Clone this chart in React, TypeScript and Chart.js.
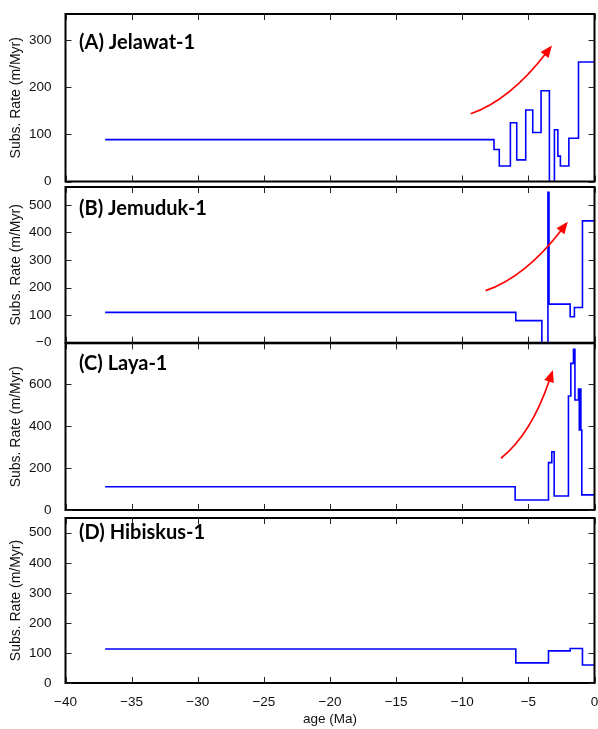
import React, { useEffect, useRef } from 'react';
import { Chart, registerables } from 'chart.js';

Chart.register(...registerables);

// ---------- data ----------
const X_TICKS = [-40, -35, -30, -25, -20, -15, -10, -5, 0];

const A_TITLE = '(A) Jelawat-1';
const A_AGE = [-37, -7.6, -7.2, -6.36, -5.88, -5.2, -4.67, -4.04, -3.41, -3.03, -2.77, -2.58, -1.94, -1.21, 0];
const A_RATE = [89, 68, 33, 125, 46, 152, 104, 193, -200, 110, 54, 33, 92, 254, 254];
const A_Y_TICKS = [0, 100, 200, 300];
const A_Y_MAX = 356;
const A_ARROW = [[-9.36, 144], [-6.41, 173], [-3.22, 289]];

const B_TITLE = '(B) Jemuduk-1';
const B_AGE = [-37, -5.95, -3.98, -3.52, -3.49, -3.47, -3.44, -1.84, -1.52, -0.91, 0];
const B_RATE = [110, 80, -100, 546, 140, 546, 140, 94, 128, 442, 442];
const B_Y_TICKS = [0, 100, 200, 300, 400, 500];
const B_Y_MAX = 565;
const B_ARROW = [[-8.23, 189], [-5.23, 239], [-2.02, 439]];

const C_TITLE = '(C) Laya-1';
const C_AGE = [-37, -6.0, -3.48, -3.23, -3.05, -1.97, -1.79, -1.59, -1.48, -1.21, -1.15, -1.09, -1.03, -0.96, 0];
const C_RATE = [111, 48, 226, 278, 67, 544, 700, 767, 525, 578, 382, 578, 382, 72, 72];
const C_Y_TICKS = [0, 200, 400, 600];
const C_Y_MAX = 796;
const C_ARROW = [[-7.07, 247], [-4.77, 363], [-3.15, 668]];

const D_TITLE = '(D) Hibiskus-1';
const D_AGE = [-37, -5.95, -3.48, -1.84, -0.91, 0];
const D_RATE = [113, 67, 107, 115, 60, 60];
const D_Y_TICKS = [0, 100, 200, 300, 400, 500];
const D_Y_MAX = 549;

const Y_TITLE = 'Subs. Rate (m/Myr)';
const X_TITLE = 'age (Ma)';

// ---------- layout / style ----------
const W = 598;
const H = 729;
const AXIS_FONT = { family: "'Liberation Sans', Arial, sans-serif", size: 13.5 };
const TEXT_COLOR = '#111';
const LINE_COLOR = '#0000ff';
const ARROW_COLOR = '#ff0000';

type PanelDef = {
  title: string;
  ages: number[];
  rates: number[];
  yTicks: number[];
  yMax: number;
  arrow: number[][] | null;
  zeroLabel: string;
  top: number;
  bottom: number;
  titleDy: number;
  showX: boolean;
};

const PANELS: PanelDef[] = [
  { title: A_TITLE, ages: A_AGE, rates: A_RATE, yTicks: A_Y_TICKS, yMax: A_Y_MAX, arrow: A_ARROW, zeroLabel: '0', top: 14, bottom: 181.5, titleDy: 29, showX: false },
  { title: B_TITLE, ages: B_AGE, rates: B_RATE, yTicks: B_Y_TICKS, yMax: B_Y_MAX, arrow: B_ARROW, zeroLabel: '\u22120', top: 187, bottom: 342.7, titleDy: 22, showX: false },
  { title: C_TITLE, ages: C_AGE, rates: C_RATE, yTicks: C_Y_TICKS, yMax: C_Y_MAX, arrow: C_ARROW, zeroLabel: '0', top: 343.3, bottom: 510, titleDy: 20, showX: false },
  { title: D_TITLE, ages: D_AGE, rates: D_RATE, yTicks: D_Y_TICKS, yMax: D_Y_MAX, arrow: null, zeroLabel: '0', top: 518, bottom: 683, titleDy: 15, showX: true },
];

const fmt = (v: number) => String(v).replace('-', '\u2212');

function makePlugin(p: PanelDef) {
  return {
    id: 'frame',
    afterDatasetsDraw(chart: any) {
      const { ctx, chartArea: ca, scales } = chart;
      const xs = scales.x;
      const ys = scales.y;
      ctx.save();
      // red arrow
      if (p.arrow) {
        const pts = p.arrow.map(([a, r]) => [xs.getPixelForValue(a), ys.getPixelForValue(r)]);
        const [s, c, t] = pts;
        const dx = t[0] - c[0];
        const dy = t[1] - c[1];
        const len = Math.hypot(dx, dy);
        const ux = dx / len;
        const uy = dy / len;
        const headL = 12;
        const headW = 5;
        const bx = t[0] - ux * headL;
        const by = t[1] - uy * headL;
        ctx.strokeStyle = ARROW_COLOR;
        ctx.fillStyle = ARROW_COLOR;
        ctx.lineWidth = 1.7;
        ctx.beginPath();
        ctx.moveTo(s[0], s[1]);
        ctx.quadraticCurveTo(c[0], c[1], bx + ux * 2, by + uy * 2);
        ctx.stroke();
        ctx.beginPath();
        ctx.moveTo(t[0], t[1]);
        ctx.lineTo(bx - uy * headW, by + ux * headW);
        ctx.lineTo(bx + uy * headW, by - ux * headW);
        ctx.closePath();
        ctx.fill();
      }
      // frame
      ctx.strokeStyle = '#000';
      ctx.lineWidth = 2;
      ctx.strokeRect(ca.left, ca.top, ca.right - ca.left, ca.bottom - ca.top);
      // inward ticks
      ctx.lineWidth = 1;
      ctx.strokeStyle = '#222';
      ctx.beginPath();
      for (const v of X_TICKS) {
        const px = Math.round(xs.getPixelForValue(v)) + 0.5;
        ctx.moveTo(px, ca.bottom);
        ctx.lineTo(px, ca.bottom - 6);
        ctx.moveTo(px, ca.top);
        ctx.lineTo(px, ca.top + 6);
      }
      for (const v of p.yTicks) {
        const py = Math.round(ys.getPixelForValue(v)) + 0.5;
        ctx.moveTo(ca.left, py);
        ctx.lineTo(ca.left + 6, py);
        ctx.moveTo(ca.right, py);
        ctx.lineTo(ca.right - 6, py);
      }
      ctx.stroke();
      // panel title
      ctx.fillStyle = '#000';
      ctx.font = "bold 20px Lato, 'Open Sans', sans-serif";
      ctx.textAlign = 'left';
      ctx.textBaseline = 'middle';
      ctx.fillText(p.title, ca.left + 13.5, ca.top + p.titleDy);
      ctx.restore();
    },
  };
}

function Panel({ p }: { p: PanelDef }) {
  const ref = useRef<HTMLCanvasElement | null>(null);
  useEffect(() => {
    if (!ref.current) return;
    const data = p.ages.map((a, i) => ({ x: a, y: p.rates[i] }));
    const chart = new Chart(ref.current, {
      type: 'line',
      data: {
        datasets: [
          {
            data,
            borderColor: LINE_COLOR,
            borderWidth: 1.6,
            pointRadius: 0,
            fill: false,
            stepped: true,
          },
        ],
      },
      options: {
        animation: false,
        responsive: false,
        events: [],
        layout: {
          padding: { top: p.top, bottom: p.showX ? 0 : H - p.bottom, left: 0, right: 3.5 },
        },
        plugins: { legend: { display: false }, tooltip: { enabled: false }, title: { display: false } },
        scales: {
          x: {
            type: 'linear',
            min: -40,
            max: 0,
            display: p.showX,
            afterBuildTicks: (s: any) => {
              s.ticks = X_TICKS.map((v) => ({ value: v }));
            },
            afterFit: (s: any) => {
              s.height = p.showX ? H - p.bottom : 0;
              s.paddingLeft = 0;
              s.paddingRight = 0;
              s.paddingTop = 0;
              s.paddingBottom = 0;
            },
            grid: { display: false, drawTicks: false },
            border: { display: false },
            ticks: {
              padding: 11,
              font: AXIS_FONT,
              color: TEXT_COLOR,
              maxRotation: 0,
              autoSkip: false,
              callback: (v: any) => fmt(Number(v)),
            },
            title: { display: true, text: X_TITLE, font: AXIS_FONT, color: TEXT_COLOR, padding: { top: 0, bottom: 2 } },
          },
          y: {
            type: 'linear',
            min: 0,
            max: p.yMax,
            afterBuildTicks: (s: any) => {
              s.ticks = p.yTicks.map((v) => ({ value: v }));
            },
            afterFit: (s: any) => {
              s.width = 65.5;
              s.paddingLeft = 0;
              s.paddingRight = 0;
              s.paddingTop = 0;
              s.paddingBottom = 0;
            },
            grid: { display: false, drawTicks: false },
            border: { display: false },
            ticks: {
              padding: 14,
              font: AXIS_FONT,
              color: TEXT_COLOR,
              callback: (v: any) => (Number(v) === 0 ? p.zeroLabel : fmt(Number(v))),
            },
            title: { display: true, text: Y_TITLE, font: { ...AXIS_FONT, size: 14 }, color: TEXT_COLOR, padding: { top: 8, bottom: 0 } },
          },
        },
      },
      plugins: [makePlugin(p)],
    } as any);
    return () => chart.destroy();
  }, [p]);
  return (
    <canvas
      ref={ref}
      width={W}
      height={H}
      style={{ position: 'absolute', left: 0, top: 0, width: W, height: H }}
    />
  );
}

export default function App() {
  return (
    <div style={{ position: 'absolute', left: 0, top: 0, width: W, height: H, background: '#fff' }}>
      {PANELS.map((p, i) => (
        <Panel key={i} p={p} />
      ))}
    </div>
  );
}
